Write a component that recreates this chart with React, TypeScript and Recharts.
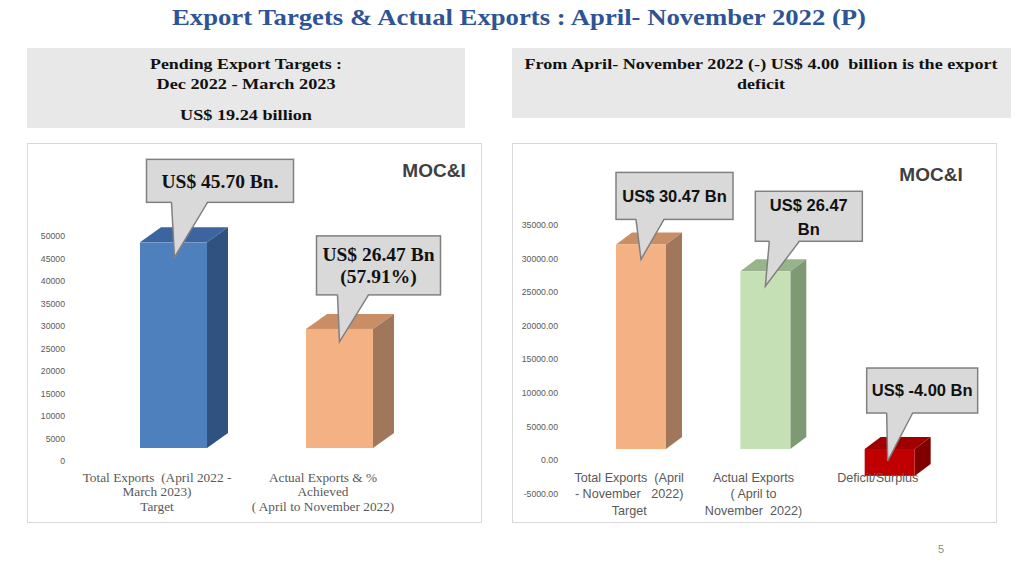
import React from "react";
import { BarChart, Bar, XAxis, YAxis } from "recharts";

// ---------- DATA ----------
const targetCategories = [
  "Total Exports  (April 2022 -\nMarch 2023)\nTarget",
  "Actual Exports & %\nAchieved\n( April to November 2022)",
];
const targetValues = [45700, 26470];
const targetTicks = [0, 5000, 10000, 15000, 20000, 25000, 30000, 35000, 40000, 45000, 50000];
const targetCallouts = [["US$ 45.70 Bn."], ["US$ 26.47 Bn", "(57.91%)"]];

const periodCategories = [
  "Total Exports  (April\n- November   2022)\nTarget",
  "Actual Exports\n( April to\nNovember  2022)",
  "Deficit/Surplus",
];
const periodValues = [30470, 26470, -4000];
const periodTicks = [-5000, 0, 5000, 10000, 15000, 20000, 25000, 30000, 35000];
const periodCallouts = [["US$ 30.47 Bn"], ["US$ 26.47", "Bn"], ["US$ -4.00 Bn"]];

const titleText = "Export Targets & Actual Exports : April- November 2022 (P)";
const pendingLines = ["Pending Export Targets :", "Dec 2022 - March 2023", "US$ 19.24 billion"];
const deficitLines = ["From April- November 2022 (-) US$ 4.00  billion is the export", "deficit"];
const sourceLabel = "MOC&I";
const pageNumber = "5";

// ---------- STYLES ----------
const SERIF = "'Liberation Serif', 'DejaVu Serif', serif";
const SANS = "'Liberation Sans', 'DejaVu Sans', sans-serif";

const leftColors = [
  { front: "#4F80BE", top: "#3C65A0", side: "#2F5280" },
  { front: "#F4B183", top: "#C98E66", side: "#A0775A" },
];
const rightColors = [
  { front: "#F4B183", top: "#C98E66", side: "#A0775A" },
  { front: "#C5E0B4", top: "#97B48A", side: "#7E9A74" },
  { front: "#C00000", top: "#A00000", side: "#800000" },
];

// tip: offset of pointer tip from front-top-center; box: [dx, dy, w, h] from tip; base: pointer base x offsets from tip
const leftCalloutGeom = [
  { tip: [1, 15], box: [-28, -98, 147, 43], base: [-3, 33], lineY: [0] },
  { tip: [0, 13], box: [-23, -106, 124, 59], base: [-2, 29], lineY: [-11, 11] },
];
const rightCalloutGeom = [
  { tip: [0, 15], box: [-25, -87, 117, 47], base: [-5, 23], lineY: [0] },
  { tip: [0, 15], box: [-10, -95, 107, 50], base: [4, 34], lineY: [-11, 13] },
  { tip: [-2, 12], box: [-21, -93, 111, 45], base: [-1, 25], lineY: [0] },
];

type ShapeCfg = {
  shiftX: number;
  shiftY: number;
  dx: number;
  dy: number;
  colors: { front: string; top: string; side: string }[];
  geom: { tip: number[]; box: number[]; base: number[]; lineY: number[] }[];
  texts: string[][];
  font: string;
  fontSize: number;
};

function make3DShape(cfg: ShapeCfg) {
  return (props: any) => {
    const { x, y, width, height, payload } = props;
    const i = payload.idx;
    const top = Math.min(y, y + height);
    const h = Math.abs(height);
    const fx = x + cfg.shiftX;
    const ft = top + cfg.shiftY;
    const fb = ft + h;
    const { dx, dy } = cfg;
    const col = cfg.colors[i];
    const g = cfg.geom[i];
    const tipX = fx + width / 2 + g.tip[0];
    const tipY = ft + g.tip[1];
    const bx = tipX + g.box[0];
    const by = tipY + g.box[1];
    const bw = g.box[2];
    const bh = g.box[3];
    const bb = by + bh;
    const cx = bx + bw / 2;
    const cy = by + bh / 2;
    return (
      <g>
        <polygon
          points={`${fx},${ft} ${fx + dx},${ft - dy} ${fx + width + dx},${ft - dy} ${fx + width},${ft}`}
          fill={col.top}
        />
        <polygon
          points={`${fx + width},${ft} ${fx + width + dx},${ft - dy} ${fx + width + dx},${fb - dy} ${fx + width},${fb}`}
          fill={col.side}
        />
        <rect x={fx} y={ft} width={width} height={h} fill={col.front} />
        <rect x={bx} y={by} width={bw} height={bh} fill="#D9D9D9" stroke="#808080" strokeWidth={1.5} />
        <polygon
          points={`${tipX + g.base[0]},${bb - 1.5} ${tipX},${tipY} ${tipX + g.base[1]},${bb - 1.5}`}
          fill="#D9D9D9"
        />
        <polyline
          points={`${tipX + g.base[0]},${bb} ${tipX},${tipY} ${tipX + g.base[1]},${bb}`}
          fill="none"
          stroke="#808080"
          strokeWidth={1.5}
        />
        {cfg.texts[i].map((t, k) => (
          <text
            key={k}
            x={cx}
            y={cy + g.lineY[k]}
            dy="0.36em"
            textAnchor="middle"
            fontFamily={cfg.font}
            fontWeight="bold"
            fontSize={cfg.fontSize}
            fill="#111"
          >
            {t}
          </text>
        ))}
      </g>
    );
  };
}

function CatTick(props: any) {
  const { x, y, payload, font, size, lineH, offsetY } = props;
  const lines = String(payload.value).split("\n");
  return (
    <g>
      {lines.map((l: string, k: number) => (
        <text
          key={k}
          x={x}
          y={y + offsetY + k * lineH}
          dy="0.36em"
          textAnchor="middle"
          fontFamily={font}
          fontSize={size}
          fill="#595959"
          style={{ whiteSpace: "pre" }}
        >
          {l}
        </text>
      ))}
    </g>
  );
}

const targetData = targetCategories.map((name, idx) => ({ name, value: targetValues[idx], idx }));
const periodData = periodCategories.map((name, idx) => ({ name, value: periodValues[idx], idx }));

const leftShape = make3DShape({
  shiftX: 16,
  shiftY: -13,
  dx: 21,
  dy: 15,
  colors: leftColors,
  geom: leftCalloutGeom,
  texts: targetCallouts,
  font: SERIF,
  fontSize: 19.5,
});
const rightShape = make3DShape({
  shiftX: 12,
  shiftY: -11,
  dx: 16,
  dy: 12,
  colors: rightColors,
  geom: rightCalloutGeom,
  texts: periodCallouts,
  font: SANS,
  fontSize: 16.5,
});

export default function App() {
  return (
    <div
      style={{
        position: "absolute",
        left: 0,
        top: 0,
        width: 1024,
        height: 576,
        background: "#fff",
        overflow: "hidden",
      }}
    >
      <svg width={1024} height={576} style={{ position: "absolute", left: 0, top: 0 }}>
        <text
          x={519}
          y={25}
          textAnchor="middle"
          fontFamily={SERIF}
          fontWeight="bold"
          fontSize={24}
          fill="#2F5496"
          textLength={694}
          lengthAdjust="spacingAndGlyphs"
        >
          {titleText}
        </text>
        <rect x={27} y={48} width={438} height={80} fill="#E8E8E8" />
        <rect x={512} y={48} width={499} height={70} fill="#E8E8E8" />
        {pendingLines.map((t, k) => (
          <text
            key={k}
            x={246}
            y={[69, 89, 120][k]}
            textAnchor="middle"
            fontFamily={SERIF}
            fontWeight="bold"
            fontSize={15}
            fill="#111"
            textLength={[192, 179, 132][k]}
            lengthAdjust="spacingAndGlyphs"
          >
            {t}
          </text>
        ))}
        {deficitLines.map((t, k) => (
          <text
            key={k}
            x={761}
            y={[69, 89][k]}
            textAnchor="middle"
            fontFamily={SERIF}
            fontWeight="bold"
            fontSize={15}
            fill="#111"
            textLength={[473, 48][k]}
            lengthAdjust="spacingAndGlyphs"
            style={{ whiteSpace: "pre" }}
          >
            {t}
          </text>
        ))}
        <rect x={27.5} y={143.5} width={454} height={379} fill="#fff" stroke="#D9D9D9" />
        <rect x={512.5} y={143.5} width={484} height={379} fill="#fff" stroke="#D9D9D9" />
        <text x={434} y={177} textAnchor="middle" fontFamily={SANS} fontWeight="bold" fontSize={19} fill="#404040">
          {sourceLabel}
        </text>
        <text x={931} y={181} textAnchor="middle" fontFamily={SANS} fontWeight="bold" fontSize={19} fill="#404040">
          {sourceLabel}
        </text>
        <text x={941} y={553} textAnchor="middle" fontFamily={SANS} fontSize={11} fill="#8C8C8C">
          {pageNumber}
        </text>
      </svg>

      <div style={{ position: "absolute", left: 27, top: 143 }}>
        <BarChart width={454} height={379} data={targetData} margin={{ top: 93, right: 75, bottom: 31, left: 7 }}>
          <YAxis
            domain={[0, 50000]}
            ticks={targetTicks}
            interval={0}
            axisLine={false}
            tickLine={false}
            tickSize={0}
            tickMargin={9}
            width={40}
            tick={{ fill: "#595959", fontSize: 8.7, fontFamily: SANS }}
          />
          <Bar dataKey="value" barSize={67} isAnimationActive={false} shape={leftShape} />
          <XAxis
            dataKey="name"
            axisLine={false}
            tickLine={false}
            tickSize={0}
            tickMargin={0}
            height={30}
            interval={0}
            tick={(p: any) => <CatTick {...p} font={SERIF} size={13.3} lineH={14.5} offsetY={16} />}
          />
        </BarChart>
      </div>

      <div style={{ position: "absolute", left: 512, top: 143 }}>
        <BarChart width={484} height={379} data={periodData} margin={{ top: 82, right: 56, bottom: 8.4, left: 5 }}>
          <YAxis
            domain={[-5000, 35000]}
            ticks={periodTicks}
            interval={0}
            axisLine={false}
            tickLine={false}
            tickSize={0}
            tickMargin={9}
            width={50}
            tickFormatter={(v: number) => v.toFixed(2)}
            tick={{ fill: "#595959", fontSize: 8.7, fontFamily: SANS }}
          />
          <Bar dataKey="value" barSize={50} isAnimationActive={false} shape={rightShape} />
          <XAxis
            dataKey="name"
            axisLine={false}
            tickLine={false}
            tickSize={0}
            tickMargin={0}
            height={20}
            interval={0}
            tick={(p: any) => <CatTick {...p} font={SANS} size={12.6} lineH={16.5} offsetY={-16.6} />}
          />
        </BarChart>
      </div>
    </div>
  );
}
